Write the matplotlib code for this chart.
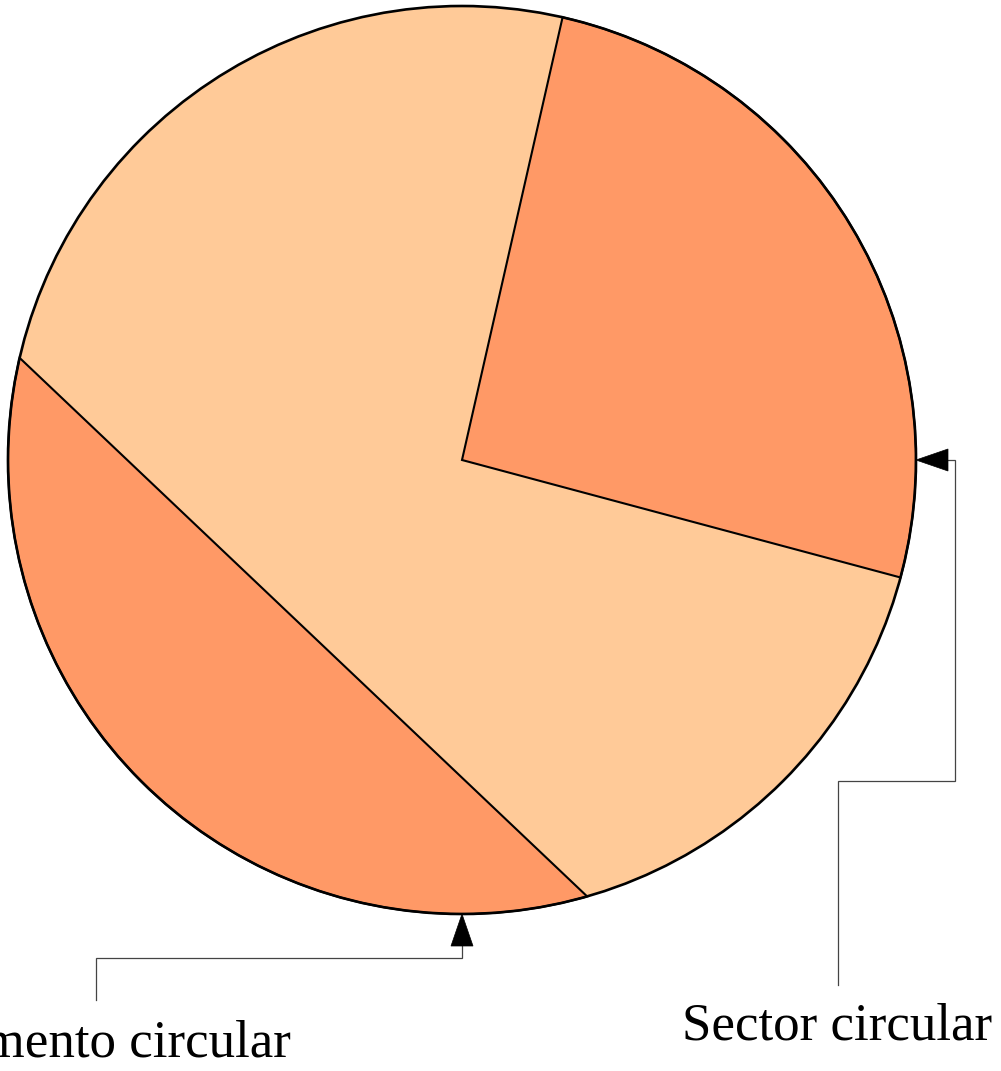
import matplotlib
matplotlib.use('agg')
import matplotlib.pyplot as plt
import numpy as np
from matplotlib.patches import Circle, Wedge, Polygon

# circle geometry (pixels, y pointing up)
center = (462, 611)
radius = 454

# sector: start / end angle in degrees
sector_angles = [-15, 77.2]
# segment: arc from / to angle in degrees (chord closes it)
segment_angles = [167, 286]

labels = ['Sector circular', 'Segmento circular']
label_pos = [(837, 31), (97, 14)]

# callout paths, end point is the tip of the arrow on the circle
sector_path_x = [838, 838, 955, 955]
sector_path_y = [86, 290, 290, 611]
sector_tip_angle = 0
segment_path_x = [96, 96, 462]
segment_path_y = [71, 113, 113]
segment_tip_angle = 270

light = '#FFCA98'
dark = '#FF9966'

fig = plt.figure(figsize=(10.01, 10.71), dpi=100)
ax = fig.add_axes([0, 0, 1, 1])
ax.set_xlim(0, 1001)
ax.set_ylim(0, 1071)
ax.set_aspect('equal')
ax.axis('off')

ax.add_patch(Circle(center, radius, facecolor=light, edgecolor='none', zorder=1))

ax.add_patch(Wedge(center, radius, sector_angles[0], sector_angles[1],
                   facecolor=dark, edgecolor='black', lw=1.5, zorder=2))

t = np.radians(np.linspace(segment_angles[0], segment_angles[1], 200))
seg = np.column_stack([center[0] + radius * np.cos(t), center[1] + radius * np.sin(t)])
ax.add_patch(Polygon(seg, closed=True, facecolor=dark, edgecolor='black', lw=1.5, zorder=2))

ax.add_patch(Circle(center, radius, facecolor='none', edgecolor='black', lw=1.9, zorder=3))


def callout(px, py, tip_angle):
    a = np.radians(tip_angle)
    tip = np.array([center[0] + radius * np.cos(a), center[1] + radius * np.sin(a)])
    d = np.array([np.cos(a), np.sin(a)])
    n = np.array([-d[1], d[0]])
    head_len, head_w = 32, 11
    base = tip + d * head_len
    ax.plot(list(px) + [base[0]], list(py) + [base[1]], color='#444444', lw=0.9,
            solid_joinstyle='miter', zorder=4)
    ax.add_patch(Polygon([tip, base + n * head_w, base - n * head_w], closed=True,
                         facecolor='black', edgecolor='black', lw=0.5, zorder=5))


callout(sector_path_x, sector_path_y, sector_tip_angle)
callout(segment_path_x, segment_path_y, segment_tip_angle)

for text, (x, y) in zip(labels, label_pos):
    ax.text(x, y, text, ha='center', va='baseline', fontsize=38.2,
            family='Liberation Serif', color='black')

fig.savefig('out.png', dpi=100)
